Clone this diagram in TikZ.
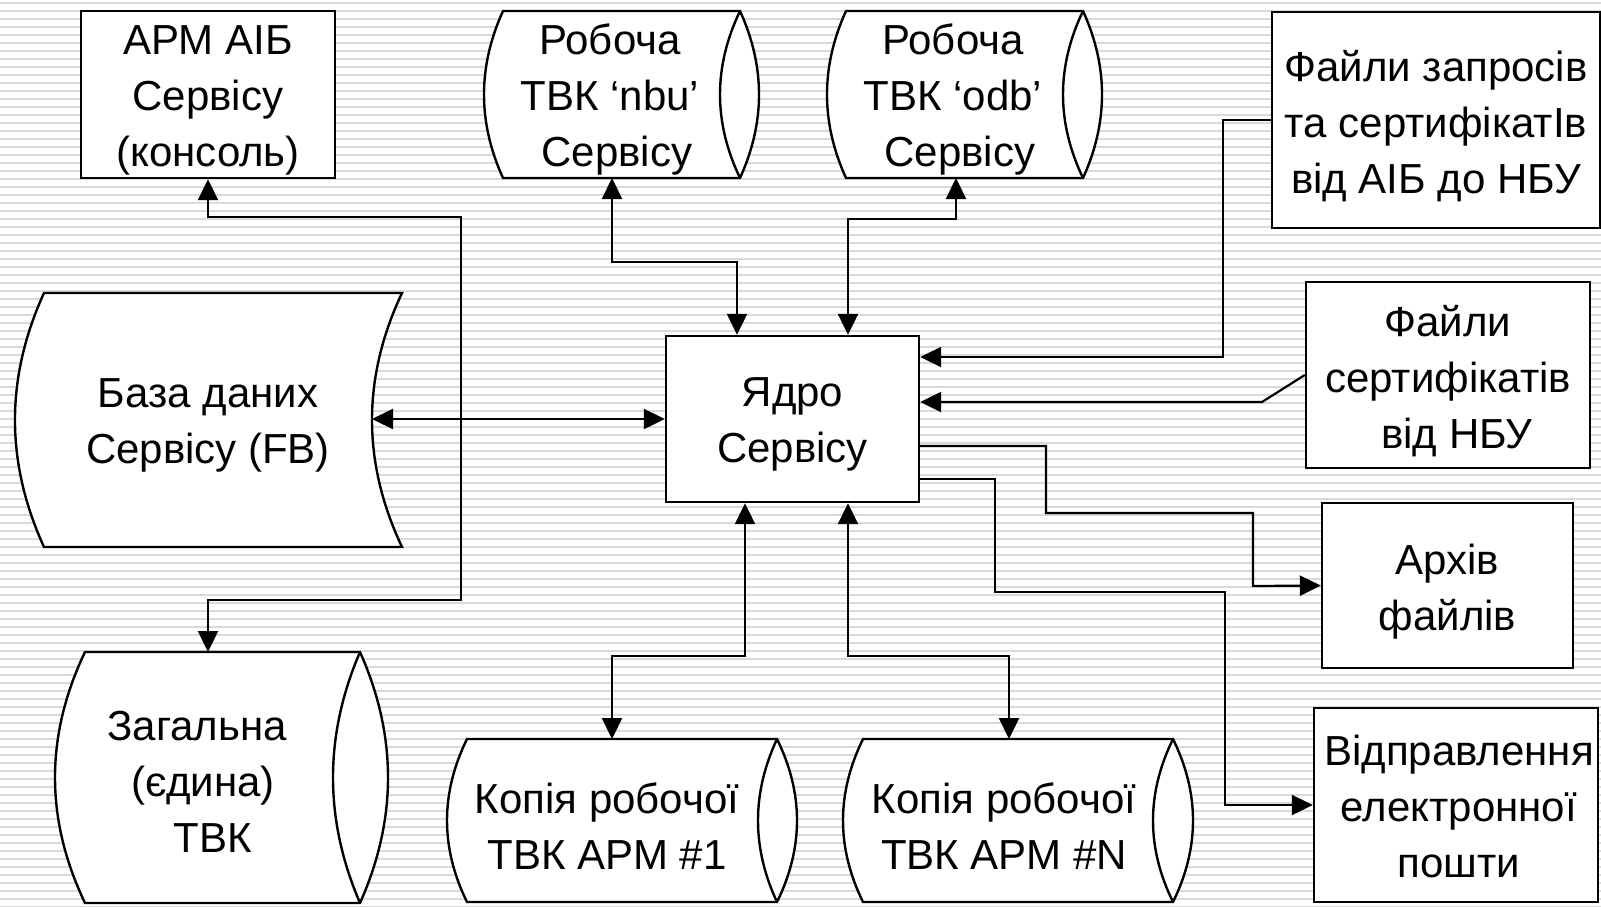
\documentclass[tikz,border=0pt]{standalone}
\usepackage{fontspec}
\setmainfont{Liberation Sans}
\usetikzlibrary{arrows.meta,calc}
\newcommand\topstr{\rule{0pt}{42pt}}
\newcommand\botstr{\rule[-12pt]{0pt}{12pt}}
\newcommand\cylshape[7]{% xL xLb xR xI xO top bot
  \pgfmathsetmacro\cylA{4/3*(#2-#1)}%
  \pgfmathsetmacro\cylB{4/3*(#4-#3)}%
  \pgfmathsetmacro\cylC{4/3*(#5-#3)}%
  \pgfmathsetmacro\cylH{(#7-#6)/3}%
  \draw[shapeline] (#1,#6) -- (#3,#6) .. controls +(\cylC,\cylH) and +(\cylC,-\cylH) .. (#3,#7) -- (#1,#7) .. controls +(\cylA,-\cylH) and +(\cylA,\cylH) .. (#1,#6) -- cycle;
  \draw[shapeline,fill=none] (#3,#6) .. controls +(\cylB,\cylH) and +(\cylB,-\cylH) .. (#3,#7);
}
\begin{document}
\begin{tikzpicture}[x=1pt,y=-1pt,
  shapeline/.style={draw=black,line width=2.4pt,fill=white,line join=miter},
  lbl/.style={align=center,font=\fontsize{42}{56}\selectfont,inner sep=0pt,yshift=-7.5pt,
    execute at begin node=\topstr, execute at end node=\botstr},
  box/.style={draw=black,fill=white,line width=2.4pt,inner sep=0pt},
  tip/.tip={Triangle[length=21pt,width=20pt]},
  conn/.style={line width=2.2pt,tip-tip},
  conn1/.style={line width=2.2pt,-tip}]
\useasboundingbox (0,0) rectangle (1601,906);
% background stripes
\fill[white] (0,0) rectangle (1601,906);
\foreach \k in {0,...,113} \draw[black!15,line width=2pt] (0,{3+8*\k}) -- (1601,{3+8*\k});

% rectangular boxes
\node[box,minimum width=254,minimum height=167] (arm) at (208,94.5) {};
\node[lbl] (arm-t) at (arm.center) {АРМ АІБ\\Сервісу\\(консоль)};
\node[box,minimum width=253,minimum height=166] (yadro) at (792.5,419) {};
\node[lbl] (yadro-t) at (yadro.center) {Ядро\\Сервісу};
\node[box,minimum width=328,minimum height=216] (req) at (1436,120) {};
\node[lbl] (req-t) at (req.center) {Файли запросів\\та сертифікатIв\\від АІБ до НБУ};
\node[box,minimum width=284,minimum height=186] (cert) at (1448,375) {};
\node[lbl] (cert-t) at (cert.center) {Файли\\сертифікатів\\\hspace*{18pt}від НБУ};
\node[box,minimum width=251,minimum height=165] (arch) at (1447.5,585.5) {};
\node[lbl] (arch-t) at (arch.center) {Архів\\файлів};
\node[box,minimum width=284,minimum height=194] (mail) at (1456,805) {};
\node[lbl] (mail-t) at (1459,805) {Відправлення\\електронної\\пошти};

% database (stored data) shape
\draw[shapeline] (44,293) -- (402,293) .. controls +(-40,84.7) and +(-40,-84.7) .. (402,547) -- (44,547) .. controls +(-38.7,-84.7) and +(-38.7,84.7) .. (44,293) -- cycle;
\node[lbl] (bd) at (208,420) {База даних\\Сервісу (FB)};
\coordinate (bd-e) at (372,419);

% cylinders
\cylshape{503}{484}{740}{720}{759}{11}{178}
\node[lbl] (nbu) at (610,93.5) {Робоча\\ТВК ‘nbu’\\\hspace*{14pt}Сервісу};
\coordinate (nbu-s) at (612,178);

\cylshape{846}{827}{1083}{1063}{1102}{11}{178}
\node[lbl] (odb) at (953,93.5) {Робоча\\ТВК ‘odb’\\\hspace*{14pt}Сервісу};
\coordinate (odb-s) at (956,178);

\cylshape{85}{55}{360}{333}{388}{652}{903}
\node[lbl] (zag) at (203,780) {Загальна\hspace*{12pt}\\(єдина)\\\hspace*{20pt}ТВК};
\coordinate (zag-n) at (208,652);

\cylshape{467}{447}{777}{758}{797}{739}{902}
\node[lbl] (kop1) at (607,825) {Копія робочої\\ТВК АРМ \#1};
\coordinate (kop1-n) at (612,739);

\cylshape{863}{843}{1173}{1153}{1193}{739}{902}
\node[lbl] (kopn) at (1004,825) {Копія робочої\\ТВК АРМ \#N};
\coordinate (kopn-n) at (1009,739);

% connectors
\draw[conn] (bd-e) -- (yadro.west |- bd-e);
\draw[conn] (arm.south) -- (208,217) -- (461,217) -- (461,600) -- (208,600) -- (zag-n);
\draw[conn] (nbu-s) |- (737,262) -- (737,262 |- yadro.north);
\draw[conn] (odb-s) |- (848,219) -- (848,219 |- yadro.north);
\draw[conn] (745,656 |- yadro.south) -- (745,656) -| (kop1-n);
\draw[conn] (848,656 |- yadro.south) -- (848,656) -| (kopn-n);
\draw[conn1] (req.west) -- (1223,120) -- (1223,357) -- (yadro.east |- 1223,357);
\draw[conn1] (cert.west) -- (1262,402) -- (yadro.east |- 1262,402);
\draw[conn1] (yadro.east |- 1046,446) -- (1046,446) -- (1046,513) -- (1253,513) -- (1253,586) -- (arch.west);
\draw[conn1] (yadro.east |- 995,479) -- (995,479) -- (995,592) -- (1225,592) -- (1225,805) -- (mail.west);
\end{tikzpicture}
\end{document}
